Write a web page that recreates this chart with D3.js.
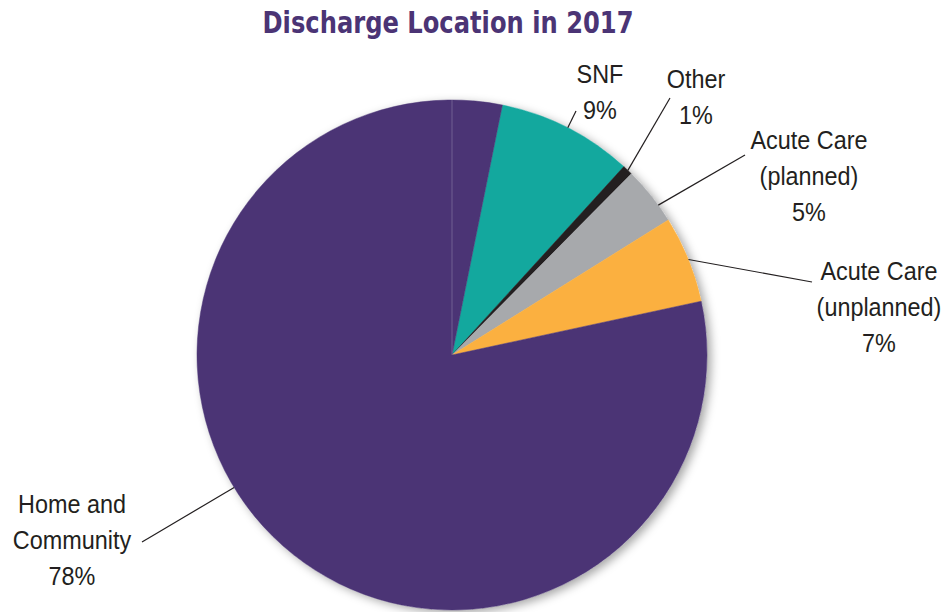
<!DOCTYPE html>
<html>
    <head>
        <script src="https://d3js.org/d3.v7.min.js"></script>
        <style>
            body { margin: 0; background: #fff; }
            svg { display: block; }
        </style>
    </head>
    <body>
        <svg id="chart" width="950" height="612"></svg>
        <script>
            // categories, in drawing order clockwise from the SNF slice
            const categories= ["SNF", "Other", "Acute Care (planned)", "Acute Care (unplanned)", "Home and Community"];
            // label text lines as printed
            const nameLines= [["SNF"], ["Other"], ["Acute Care", "(planned)"], ["Acute Care", "(unplanned)"], ["Home and", "Community"]];
            const pctLabels= ["9%", "1%", "5%", "7%", "78%"];
            // slice sizes as drawn (in %)
            const sliceShares= [8.6, 0.65, 3.7, 5.5, 81.55];
            const colors= ["#13a89e", "#231f20", "#a7a9ac", "#fbb040", "#4b3475"];

            // layout: label anchor, leader end, leader start angle (deg)
            const labelLayout= [
                {x: 600, y: 83, lx: 576, ly: 111, a: 27},
                {x: 696, y: 88, lx: 670, ly: 98, a: 43.6},
                {x: 809, y: 149, lx: 745, ly: 155, a: 54},
                {x: 879, y: 280, lx: 812, ly: 282, a: 68},
                {x: 72, y: 513, lx: 142, ly: 542, a: 238.7}
            ];

            const cx= 452, cy= 355, radius= 255;
            const startDeg= 11.4;
            const rad= Math.PI / 180;
            const squeeze= 0.9;

            let svg= d3.select("#chart");

            let defs= svg.append("defs");
            defs.append("filter")
                .attr("id", "shadow")
                .attr("x", "-20%").attr("y", "-20%")
                .attr("width", "140%").attr("height", "140%")
                .append("feDropShadow")
                .attr("dx", 4)
                .attr("dy", 3)
                .attr("stdDeviation", 5)
                .attr("flood-color", "#000")
                .attr("flood-opacity", 0.35);

            svg.append("text")
                .attr("x", 448)
                .attr("y", 33)
                .attr("text-anchor", "middle")
                .attr("textLength", 371)
                .attr("lengthAdjust", "spacingAndGlyphs")
                .style("font-family", "'Liberation Sans Narrow', 'DejaVu Sans Condensed', sans-serif")
                .style("font-weight", "bold")
                .style("font-size", "30px")
                .style("fill", "#4b3475")
                .text("Discharge Location in 2017");

            let pie= d3.pie()
                .sort(null)
                .value(d => d)
                .startAngle(startDeg * rad)
                .endAngle(startDeg * rad + 2 * Math.PI);
            let arc= d3.arc().innerRadius(0).outerRadius(radius);

            let g= svg.append("g").attr("transform", "translate(" + cx + "," + cy + ")");

            // shadow disc under the pie
            g.append("circle")
                .attr("r", radius)
                .attr("fill", "#fff")
                .attr("filter", "url(#shadow)");

            g.selectAll("path.slice")
                .data(pie(sliceShares))
                .enter()
                .append("path")
                .attr("class", "slice")
                .attr("d", arc)
                .attr("fill", (d, i) => colors[i])
                .attr("stroke", (d, i) => colors[i])
                .attr("stroke-width", 0.5);

            // faint seam at 12 o'clock
            g.append("line")
                .attr("x1", 0).attr("y1", 0)
                .attr("x2", 0).attr("y2", -radius)
                .attr("stroke", "#7a6a99")
                .attr("stroke-width", 0.8);

            // labels and leaders
            let textFont= "'Liberation Sans', Arial, sans-serif";
            labelLayout.forEach(function (p, i) {
                let a= p.a * rad;
                let sx= cx + radius * Math.sin(a);
                let sy= cy - radius * Math.cos(a);
                svg.append("line")
                    .attr("x1", sx).attr("y1", sy)
                    .attr("x2", p.lx).attr("y2", p.ly)
                    .attr("stroke", "#231f20")
                    .attr("stroke-width", 1.2);
                let lines= nameLines[i].concat([pctLabels[i]]);
                // narrow the glyphs a little around the label centre
                let t= svg.append("g")
                    .attr("transform", "translate(" + p.x + ",0) scale(" + squeeze + ",1)")
                    .append("text")
                    .attr("text-anchor", "middle")
                    .style("font-family", textFont)
                    .style("font-size", "26px")
                    .style("fill", "#231f20");
                lines.forEach(function (s, k) {
                    t.append("tspan")
                        .attr("x", 0)
                        .attr("y", p.y + k * 36)
                        .text(s);
                });
            });
        </script>
    </body>
</html>
